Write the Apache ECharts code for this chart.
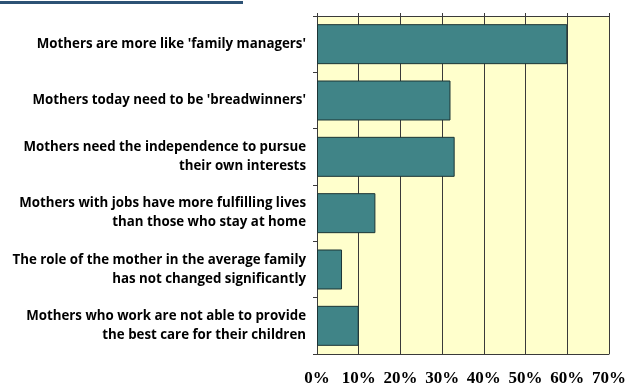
<!DOCTYPE html>
<html>
<head>
<meta charset="utf-8">
<script src="https://cdn.jsdelivr.net/npm/echarts@6/dist/echarts.min.js"></script>
<style>
  html, body { margin: 0; padding: 0; background: #ffffff; }
  #chart { width: 629px; height: 387px; }
</style>
</head>
<body>
<div id="chart"></div>
<script>
// Survey statements about the role of mothers (top to bottom)
const statements = [
  "Mothers are more like 'family managers'",
  "Mothers today need to be 'breadwinners'",
  "Mothers need the independence to pursue\ntheir own interests",
  "Mothers with jobs have more fulfilling lives\nthan those who stay at home",
  "The role of the mother in the average family\nhas not changed significantly",
  "Mothers who work are not able to provide\nthe best care for their children"
];
// Share of respondents agreeing, in percent
const agreePct = [60, 32, 33, 14, 6, 10];
// Percent scale
const pctMin = 0, pctMax = 70, pctStep = 10;

const chart = echarts.init(document.getElementById('chart'), null, { renderer: 'canvas' });

const lineColor = '#3a3a3a';

chart.setOption({
  animation: false,
  backgroundColor: '#ffffff',
  graphic: [
    { type: 'rect', left: 0, top: 1, shape: { width: 243, height: 3 }, style: { fill: '#2d5275' } }
  ],
  grid: {
    left: 317, right: 17, top: 16, bottom: 33,
    show: true, backgroundColor: '#FFFFCC', borderWidth: 0
  },
  xAxis: [
    {
      type: 'value', position: 'bottom',
      min: pctMin, max: pctMax, interval: pctStep,
      axisLine: { show: true, lineStyle: { color: lineColor } },
      axisTick: { show: false },
      splitLine: { show: true, lineStyle: { color: lineColor, width: 1 } },
      axisLabel: {
        formatter: '{value}%', margin: 16,
        fontFamily: 'Liberation Serif', fontWeight: 'bold', fontSize: 17, color: '#000'
      }
    },
    {
      type: 'value', position: 'top',
      min: pctMin, max: pctMax, interval: pctStep,
      axisLine: { show: true, lineStyle: { color: lineColor } },
      axisTick: { show: true, length: 3, lineStyle: { color: lineColor } },
      splitLine: { show: false },
      axisLabel: { show: false }
    }
  ],
  yAxis: {
    type: 'category', inverse: true,
    data: statements,
    axisLine: { show: true, lineStyle: { color: lineColor } },
    axisTick: { show: true, length: 4, lineStyle: { color: lineColor } },
    axisLabel: {
      margin: 11, align: 'right', lineHeight: 19,
      fontFamily: 'Open Sans', fontWeight: 'bold', fontSize: 13.3, color: '#000'
    }
  },
  series: [{
    type: 'bar',
    data: agreePct,
    xAxisIndex: 0,
    barCategoryGap: '29%',
    itemStyle: { color: '#408487', borderColor: '#1c3535', borderWidth: 1 }
  }]
});
</script>
</body>
</html>
